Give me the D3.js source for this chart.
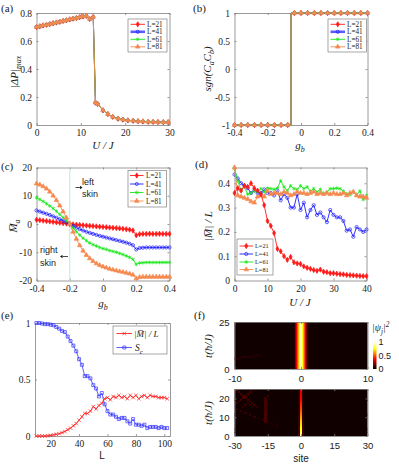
<!DOCTYPE html>
<html><head><meta charset="utf-8">
<script src="https://cdn.jsdelivr.net/npm/d3@7/dist/d3.min.js"></script>
<style>
html,body{margin:0;padding:0;background:#fff;}
svg{display:block;}
</style></head>
<body>
<svg id="chart" width="399" height="468"></svg>
<script>
// ---------------- DATA ----------------
const seriesLabels = ["L=21","L=41","L=61","L=81"];

// (a) |dP|_max vs U/J (all four L overlap)
const aU  = [0,0.75,1.5,2.25,3,3.75,4.5,5.25,6,6.75,7.5,8.25,9,9.75,10.5,11.25,12,12.8,13.3,13.8,15.0,16.1,17.2,18.4,19.5,20.6,21.8,22.9,24.0,25.2,26.3,27.4,28.6,29.7];
const aDP = [0.700,0.705,0.711,0.716,0.721,0.727,0.732,0.737,0.743,0.748,0.754,0.759,0.764,0.770,0.775,0.779,0.757,0.772,0.16,0.15,0.105,0.078,0.058,0.045,0.038,0.033,0.030,0.027,0.025,0.023,0.022,0.021,0.020,0.020];
const aXTicks = [0,10,20,30], aYTicks = [0,0.2,0.4,0.6,0.8];

// (b) sgn(CaCb) vs g_b
const bG   = [-0.4,-0.36,-0.32,-0.28,-0.24,-0.2,-0.16,-0.12,-0.08,-0.04,0,0.04,0.08,0.12,0.16,0.2,0.24,0.28,0.32,0.36,0.4];
const bSgn = [-1,-1,-1,-1,-1,-1,-1,-1,-1,1,1,1,1,1,1,1,1,1,1,1,1];
const bXTicks = [-0.4,-0.2,0,0.2,0.4], bYTicks = [-1,-0.5,0,0.5,1];

// (c) M_a vs g_b
const cG = [-0.4,-0.38,-0.36,-0.34,-0.32,-0.3,-0.28,-0.26,-0.24,-0.22,-0.2,-0.18,-0.16,-0.14,-0.12,-0.1,-0.08,-0.06,-0.04,-0.02,0,0.02,0.04,0.06,0.08,0.1,0.12,0.14,0.16,0.18,0.2,0.22,0.24,0.26,0.28,0.3,0.32,0.34,0.36,0.38,0.4];
const cM21 = [1.5,1.35,1.2,1.05,0.9,0.75,0.6,0.45,0.3,0.15,0,-0.15,-0.25,-0.35,-0.45,-0.55,-0.65,-0.75,-0.85,-0.95,-1.05,-1.15,-1.25,-1.35,-1.45,-1.55,-1.7,-1.85,-2.0,-2.3,-4.0,-3.6,-3.5,-3.5,-3.45,-3.5,-3.5,-3.45,-3.5,-3.5,-3.5];
const cM41 = [4.8,4.4,4.0,3.6,3.2,2.7,2.2,1.7,1.15,0.6,0,-0.7,-1.3,-1.8,-2.3,-2.75,-3.15,-3.5,-3.85,-4.2,-4.5,-4.8,-5.1,-5.4,-5.7,-6.0,-6.3,-6.6,-7.0,-7.5,-9.0,-8.5,-8.4,-8.3,-8.3,-8.3,-8.3,-8.3,-8.3,-8.3,-8.3];
const cM61 = [9.3,8.7,8.0,7.2,6.4,5.5,4.5,3.4,2.3,1.2,0,-1.4,-2.7,-3.9,-5.0,-5.9,-6.7,-7.3,-7.8,-8.3,-8.7,-9.0,-9.4,-9.7,-10.0,-10.4,-10.8,-11.3,-11.8,-12.5,-14.3,-13.8,-13.7,-13.6,-13.6,-13.6,-13.6,-13.6,-13.6,-13.6,-13.6];
const cM81 = [14.3,13.9,13.3,12.5,11.4,10.0,8.4,6.5,4.4,2.2,0,-2.8,-5.3,-7.6,-9.5,-11.0,-12.2,-13.2,-14.0,-14.6,-15.1,-15.5,-15.9,-16.2,-16.5,-16.8,-17.0,-17.3,-17.6,-18.0,-19.3,-18.8,-18.7,-18.7,-18.7,-18.7,-18.7,-18.7,-18.7,-18.7,-18.7];
const cXTicks = [-0.4,-0.2,0,0.2,0.4], cYTicks = [-20,-10,0,10,20];

// (d) |M|/L vs U/J
const dU = [0,1,2,3,4,5,6,7,8,9,10,11,12,13,14,15,16,17,18,19,20,21,22,23,24,25,26,27,28,29,30,31,32,33,34,35,36,37,38,39,40];
const dM21 = [0.36,0.38,0.37,0.39,0.385,0.40,0.38,0.37,0.355,0.31,0.245,0.225,0.195,0.13,0.12,0.10,0.085,0.097,0.075,0.07,0.068,0.058,0.052,0.048,0.043,0.04,0.045,0.036,0.034,0.03,0.03,0.028,0.026,0.025,0.023,0.022,0.021,0.02,0.019,0.018,0.018];
const dM41 = [0.436,0.42,0.40,0.39,0.38,0.36,0.37,0.36,0.36,0.375,0.36,0.36,0.35,0.37,0.33,0.355,0.34,0.30,0.30,0.355,0.29,0.32,0.26,0.29,0.31,0.27,0.28,0.26,0.24,0.29,0.27,0.26,0.26,0.245,0.205,0.21,0.18,0.22,0.21,0.20,0.21];
const dM61 = [0.46,0.41,0.37,0.385,0.355,0.36,0.37,0.365,0.378,0.364,0.38,0.378,0.375,0.38,0.41,0.385,0.37,0.39,0.378,0.375,0.39,0.378,0.385,0.367,0.378,0.364,0.375,0.357,0.364,0.378,0.378,0.38,0.378,0.367,0.357,0.353,0.364,0.353,0.368,0.333,0.35];
const dM81 = [0.465,0.35,0.345,0.34,0.335,0.325,0.32,0.345,0.35,0.345,0.37,0.355,0.36,0.36,0.355,0.365,0.36,0.35,0.355,0.365,0.36,0.36,0.355,0.36,0.365,0.355,0.36,0.355,0.36,0.355,0.36,0.355,0.355,0.36,0.35,0.36,0.365,0.35,0.345,0.345,0.34];
const dXTicks = [0,10,20,30,40], dYTicks = [0,0.1,0.2,0.3,0.4];

// (e) |M|/L and S_c vs L
const eL  = [10,12,14,16,18,20,22,24,26,28,30,32,34,36,38,40,42,44,46,48,50,52,54,56,58,60,62,64,66,68,70,72,74,76,78,80,82,84,86,88,90,92,94,96,98,100,102];
const eM  = [0,0,0,0,0.003,0.005,0.01,0.015,0.02,0.03,0.04,0.055,0.07,0.09,0.11,0.14,0.17,0.20,0.20,0.22,0.26,0.24,0.27,0.29,0.33,0.34,0.32,0.35,0.34,0.36,0.34,0.35,0.33,0.36,0.34,0.36,0.33,0.35,0.36,0.34,0.36,0.35,0.35,0.34,0.34,0.34,0.33];
const eSc = [1.0,1.0,0.995,0.99,0.99,0.985,0.98,0.965,0.95,0.93,0.92,0.88,0.84,0.80,0.75,0.68,0.63,0.53,0.53,0.51,0.45,0.42,0.35,0.38,0.28,0.22,0.19,0.19,0.17,0.15,0.16,0.16,0.13,0.11,0.15,0.10,0.10,0.09,0.10,0.07,0.08,0.08,0.08,0.07,0.08,0.07,0.07];
const eXTicks = [20,40,60,80,100], eYTicks = [0,0.5,1];

// (f) |psi_j|^2 heat maps
const fBase = 0.025;
const fTopSites = [-10,-9,-8,-7,-6,-5,-4,-3,-2,-1,0,1,2,3,4,5,6,7,8,9,10];
const fTopProb  = [0.025,0.025,0.025,0.025,0.025,0.025,0.025,0.025,0.025,0.03,1.0,0.03,0.025,0.025,0.025,0.025,0.025,0.025,0.025,0.025,0.025];
const fTopFaint = [[-10,5,0.06],[-9,6,0.06],[-8,6,0.055],[-7,7,0.05]];
const fBotT      = [0,1,2,3,4,5,6,7,8,9,10,11,12,13,14,15,16,17,18,19,20,21,22,23,24];
const fBotCenter = [0.92,0.86,0.82,0.78,0.75,0.72,0.7,0.68,0.65,0.62,0.6,0.57,0.54,0.51,0.48,0.46,0.44,0.42,0.4,0.38,0.36,0.35,0.34,0.33,0.32];
const fBotSide   = [0.12,0.11,0.1,0.1,0.09,0.09,0.08,0.08,0.08,0.07,0.07,0.07,0.07,0.06,0.06,0.06,0.06,0.06,0.06,0.05,0.05,0.05,0.05,0.05,0.05];
const fBotFaint  = [[-16,7,0.09],[-16,8,0.1],[-16,9,0.1],[-16,10,0.11],[-16,11,0.11],[-16,12,0.11],[-16,13,0.1],[-16,14,0.1],[-16,15,0.1],[-16,16,0.1],[-16,17,0.1],[-16,18,0.1],[-16,19,0.09],[-16,20,0.09],[-15,21,0.08],
  [-29,14,0.08],[-27,13,0.08],[-25,12,0.08],[-23,11,0.075],[-21,10,0.075],[-19,9,0.07],[-17,8,0.07],[-15,7,0.065],[-13,6,0.06],[-11,5,0.06],
  [-29,24,0.11],[-28,23,0.11],[-27,22,0.11],[-26,21,0.11],[-25,20,0.1],[-24,19,0.1],[-23,18,0.1],[-22,17,0.09],[-21,16,0.09],[-20,15,0.08],
  [-29,17,0.1],[-28,18,0.11],[-27,19,0.11],[-26,20,0.11],[-25,21,0.11],[-24,22,0.11],[-23,23,0.11],[-22,24,0.11],
  [-26,15,0.08],[-25,16,0.08],[-24,17,0.08],[-23,16,0.075],[-22,15,0.075]];
const fTopXTicks = [-10,0,10], fTopYTicks = [0,25];
const fBotXTicks = [-30,-15,0,15,30], fBotYTicks = [0,10,20];
const cbTicks = [0,0.5,1];

// ---------------- STYLE ----------------
const AX = "#808080";
const SERIF = "'Liberation Serif','Times New Roman',Times,serif";
const SANS  = "'Liberation Sans',Arial,Helvetica,sans-serif";
const RED = "#ff1a1a", BLUE = "#1a1aff", GREEN = "#19e619", ORANGE = "#f5894f";
const styles = [
  {color:RED,    sym:d3.symbolDiamond,  size:8,  fill:RED},
  {color:BLUE,   sym:d3.symbolCircle,   size:8,  fill:"none"},
  {color:GREEN,  sym:d3.symbolAsterisk, size:10, fill:"none"},
  {color:ORANGE, sym:d3.symbolTriangle, size:9,  fill:ORANGE}
];
const fmt = d => String(d);

const svg = d3.select("#chart");
const defs = svg.append("defs");

function hot(v){
  v = Math.max(0, Math.min(1, v));
  const r = Math.min(1, v/0.375), g = Math.max(0, Math.min(1, (v-0.375)/0.375)), b = Math.max(0, Math.min(1, (v-0.75)/0.25));
  return d3.rgb(r*255, g*255, b*255).formatHex();
}

function drawAxes(x, y, xt, yt, o = {}) {
  const g = svg.append("g");
  const font = o.font || SERIF, fs = o.fs || 9.5;
  const B = y.range()[0], T = y.range()[1], L = x.range()[0], R = x.range()[1];
  const list = [
    g.append("g").attr("transform", `translate(0,${B})`).call(d3.axisBottom(x).tickValues(xt).tickFormat(fmt).tickSizeInner(-2).tickSizeOuter(0).tickPadding(o.xpad || 4.5)),
    g.append("g").attr("transform", `translate(0,${T})`).call(d3.axisTop(x).tickValues(xt).tickFormat("").tickSizeInner(-2).tickSizeOuter(0)),
    g.append("g").attr("transform", `translate(${L},0)`).call(d3.axisLeft(y).tickValues(yt).tickFormat(fmt).tickSizeInner(-2).tickSizeOuter(0).tickPadding(o.ypad || 4.5)),
    g.append("g").attr("transform", `translate(${R},0)`).call(d3.axisRight(y).tickValues(yt).tickFormat("").tickSizeInner(-2).tickSizeOuter(0))
  ];
  list.forEach(a => {
    a.attr("font-family", font).attr("font-size", fs);
    a.select(".domain").attr("stroke", AX).attr("stroke-width", 0.8);
    a.selectAll(".tick line").attr("stroke", AX).attr("stroke-width", 0.8);
    a.selectAll(".tick text").attr("fill", "#1a1a1a").attr("font-family", font).attr("font-size", fs);
  });
  return g;
}

function drawSeries(g, x, y, xs, ys, st, o = {}) {
  const pts = xs.map((v, i) => [x(v), y(ys[i])]);
  const line = d3.line();
  if (o.curve) line.curve(o.curve);
  g.append("path").attr("d", line(pts)).attr("fill", "none")
    .attr("stroke", o.lineColor || st.color).attr("stroke-width", o.lw || 0.9);
  const sym = d3.symbol().type(st.sym).size(st.size);
  g.selectAll(null).data(pts).join("path")
    .attr("transform", d => `translate(${d[0]},${d[1]})`)
    .attr("d", sym).attr("fill", st.fill).attr("stroke", st.color).attr("stroke-width", 0.7);
}

function legend4(box, rowsY, lx0, lx1, tx, fs, o = {}) {
  const g = svg.append("g");
  g.append("rect").attr("x", box[0]).attr("y", box[1]).attr("width", box[2]).attr("height", box[3])
    .attr("fill", "#fff").attr("stroke", AX).attr("stroke-width", 0.7);
  seriesLabels.forEach((lab, i) => {
    const st = styles[i], yy = rowsY[i];
    const thick = (o.thickBlue && i === 1);
    g.append("line").attr("x1", lx0).attr("x2", lx1).attr("y1", yy).attr("y2", yy)
      .attr("stroke", thick ? "#5c5cff" : st.color).attr("stroke-width", thick ? 2.6 : 0.9);
    g.append("path").attr("transform", `translate(${(lx0+lx1)/2},${yy})`)
      .attr("d", d3.symbol().type(st.sym).size(st.size)).attr("fill", st.fill).attr("stroke", st.color).attr("stroke-width", 0.7);
    g.append("text").attr("x", tx).attr("y", yy).attr("dy", "0.35em").attr("font-family", SERIF)
      .attr("font-size", fs).attr("fill", "#1a1a1a").text(lab);
  });
}

function rich(parent, x, y, parts, o = {}) {
  const t = parent.append("text").attr("x", x).attr("y", y)
    .attr("font-family", o.font || SERIF).attr("font-size", o.fs || 11)
    .attr("font-style", o.italic === false ? "normal" : "italic")
    .attr("text-anchor", o.anchor || "middle").attr("fill", "#1a1a1a");
  if (o.rotate) t.attr("transform", `rotate(-90,${x},${y})`);
  let shift = 0;
  parts.forEach(([s, k]) => {
    const target = k === "sub" ? 3 : k === "sup" ? -4 : 0;
    const sp = t.append("tspan").text(s).attr("dy", target - shift);
    if (k !== "n") sp.attr("font-size", (o.fs || 11) * 0.72);
    shift = target;
  });
  return t;
}

function panelLabel(x, y, s) {
  svg.append("text").attr("x", x).attr("y", y).attr("font-family", SERIF).attr("font-size", 11).attr("fill", "#1a1a1a").text(s);
}

// ---------------- PANEL (a) ----------------
{
  const x = d3.scaleLinear().domain([0, 30]).range([36.5, 169.5]);
  const y = d3.scaleLinear().domain([0, 0.8]).range([125, 13]);
  drawAxes(x, y, aXTicks, aYTicks);
  const g = svg.append("g");
  styles.forEach(st => drawSeries(g, x, y, aU, aDP, st));
  legend4([128, 19, 39, 33], [24.3, 31.8, 39.3, 46.8], 130.5, 145, 147, 7.2, {thickBlue: true});
  rich(svg, 103, 149, [["U / J", "n"]]);
  rich(svg, 18, 72, [["|ΔP|", "n"], ["max", "sub"]], {rotate: true});
  panelLabel(1, 12, "(a)");
}

// ---------------- PANEL (b) ----------------
{
  const x = d3.scaleLinear().domain([-0.4, 0.4]).range([234.5, 367.5]);
  const y = d3.scaleLinear().domain([-1, 1]).range([125, 13]);
  drawAxes(x, y, bXTicks, bYTicks);
  const g = svg.append("g");
  styles.forEach(st => drawSeries(g, x, y, bG, bSgn, st, {curve: d3.curveStep}));
  legend4([328, 19, 38.5, 33], [24.3, 31.8, 39.3, 46.8], 330.5, 345, 347, 7.2, {thickBlue: true});
  rich(svg, 300, 149, [["g", "n"], ["b", "sub"]]);
  rich(svg, 211, 69, [["sgn(C", "n"], ["a", "sub"], ["C", "n"], ["b", "sub"], [")", "n"]], {rotate: true});
  panelLabel(193, 12, "(b)");
}

// ---------------- PANEL (c) ----------------
{
  const x = d3.scaleLinear().domain([-0.4, 0.4]).range([36.5, 169.5]);
  const y = d3.scaleLinear().domain([-20, 20]).range([280.5, 167.5]);
  drawAxes(x, y, cXTicks, cYTicks);
  svg.append("line").attr("x1", x(-0.2)).attr("x2", x(-0.2)).attr("y1", y(20)).attr("y2", y(-20))
    .attr("stroke", "#b8e4ee").attr("stroke-width", 0.9);
  const g = svg.append("g");
  [cM21, cM41, cM61, cM81].forEach((arr, i) => drawSeries(g, x, y, cG, arr, styles[i]));
  legend4([128, 170.5, 38.5, 36.5], [175.5, 184, 192.5, 201], 130, 143.5, 146, 7.2);
  const ann = svg.append("g").attr("font-family", SANS).attr("font-size", 9).attr("fill", "#1a1a1a");
  ann.append("text").attr("x", 82).attr("y", 185).text("left");
  ann.append("text").attr("x", 82).attr("y", 197).text("skin");
  ann.append("text").attr("x", 40).attr("y", 253).text("right");
  ann.append("text").attr("x", 40).attr("y", 266).text("skin");
  svg.append("path").attr("d", "M75.5,187.5H80").attr("stroke", "#1a1a1a").attr("stroke-width", 0.8);
  svg.append("path").attr("d", "M80,185.8L82.5,187.5L80,189.2Z").attr("fill", "#1a1a1a");
  svg.append("path").attr("d", "M68,256.5H62.5").attr("stroke", "#1a1a1a").attr("stroke-width", 0.8);
  svg.append("path").attr("d", "M62.5,254.8L60,256.5L62.5,258.2Z").attr("fill", "#1a1a1a");
  rich(svg, 103, 307, [["g", "n"], ["b", "sub"]]);
  rich(svg, 17, 226, [["M\u0305", "n"], ["a", "sub"]], {rotate: true});
  panelLabel(1, 170, "(c)");
}

// ---------------- PANEL (d) ----------------
{
  const x = d3.scaleLinear().domain([0, 40]).range([234.5, 366.5]);
  const y = d3.scaleLinear().domain([0, 0.465]).range([280.5, 167.5]);
  drawAxes(x, y, dXTicks, dYTicks);
  const g = svg.append("g");
  [dM41, dM61, dM81, dM21].forEach((arr, k) => {
    const i = [1, 2, 3, 0][k];
    drawSeries(g, x, y, dU, arr, styles[i]);
  });
  legend4([237, 239, 36, 36], [246, 254, 262, 269.5], 239.5, 253, 255, 6.3);
  rich(svg, 300, 306, [["U / J", "n"]]);
  rich(svg, 212, 226, [["|M\u0305| / L", "n"]], {rotate: true});
  panelLabel(195, 168, "(d)");
}

// ---------------- PANEL (e) ----------------
{
  const x = d3.scaleLinear().domain([9, 104]).range([35, 170]);
  const y = d3.scaleLinear().domain([0, 1]).range([436, 323]);
  drawAxes(x, y, eXTicks, eYTicks);
  const g = svg.append("g");
  const stM = {color: "#ff2020", sym: d3.symbolTimes, size: 10, fill: "none"};
  const stS = {color: "#3333ff", sym: d3.symbolSquare, size: 9, fill: "none"};
  drawSeries(g, x, y, eL, eSc, stS, {lineColor: "#4d4dff"});
  drawSeries(g, x, y, eL, eM, stM);
  const lg = svg.append("g");
  lg.append("rect").attr("x", 113).attr("y", 326).attr("width", 54).attr("height", 28).attr("fill", "#fff").attr("stroke", AX).attr("stroke-width", 0.7);
  [[333.5, stM, "#ff2020"], [347.5, stS, "#4d4dff"]].forEach(([yy, st, lc]) => {
    lg.append("line").attr("x1", 116.5).attr("x2", 132).attr("y1", yy).attr("y2", yy).attr("stroke", lc).attr("stroke-width", 0.9);
    lg.append("path").attr("transform", `translate(124.3,${yy})`).attr("d", d3.symbol().type(st.sym).size(st.size)).attr("fill", "none").attr("stroke", st.color).attr("stroke-width", 0.7);
  });
  rich(lg, 134, 337, [["|M\u0305| / L", "n"]], {anchor: "start", fs: 9});
  rich(lg, 135, 350.5, [["S", "n"], ["c", "sub"]], {anchor: "start", fs: 9.5});
  svg.append("text").attr("x", 102).attr("y", 459).attr("text-anchor", "middle").attr("font-family", SANS).attr("font-size", 10).attr("fill", "#1a1a1a").text("L");
  panelLabel(1, 319, "(e)");
}

// ---------------- PANEL (f) ----------------
{
  const x = d3.scaleLinear().domain([-10, 10]).range([234.5, 367.5]);
  const y = d3.scaleLinear().domain([0, 25]).range([369, 322]);
  const grad = defs.append("linearGradient").attr("id", "gTop").attr("gradientUnits", "userSpaceOnUse")
    .attr("x1", x(-10)).attr("x2", x(10)).attr("y1", 0).attr("y2", 0);
  const span = x(10) - x(-10);
  fTopSites.forEach((s, i) => {
    if (i === fTopSites.length - 1) {
      grad.append("stop").attr("offset", 1).attr("stop-color", hot(fTopProb[i]));
      return;
    }
    for (let k = 0; k < 12; k++) {
      const f = k / 12;
      const v = fTopProb[i] + (fTopProb[i + 1] - fTopProb[i]) * f;
      const px = x(s + f * (fTopSites[i + 1] - s));
      grad.append("stop").attr("offset", (px - x(-10)) / span).attr("stop-color", hot(v));
    }
  });
  svg.append("rect").attr("x", x(-10)).attr("y", y(25)).attr("width", span).attr("height", y(0) - y(25)).attr("fill", "url(#gTop)");
  const gt = svg.append("g");
  fTopFaint.forEach(([s, t, v]) => gt.append("rect").attr("x", x(s)).attr("y", y(t + 1)).attr("width", x(s + 1) - x(s)).attr("height", y(t) - y(t + 1)).attr("fill", hot(v)));
  drawAxes(x, y, fTopXTicks, fTopYTicks, {font: SANS, fs: 9.5, xpad: 6, ypad: 5});

  const cy = d3.scaleLinear().domain([0, 1]).range([369, 342]);
  const cg = defs.append("linearGradient").attr("id", "gCb").attr("x1", 0).attr("x2", 0).attr("y1", 1).attr("y2", 0);
  [0, 0.1, 0.2, 0.3, 0.375, 0.45, 0.55, 0.65, 0.75, 0.85, 0.95, 1].forEach(v => cg.append("stop").attr("offset", v).attr("stop-color", hot(v)));
  svg.append("rect").attr("x", 373).attr("y", cy(1)).attr("width", 3.5).attr("height", cy(0) - cy(1)).attr("fill", "url(#gCb)");
  const cax = svg.append("g").attr("transform", "translate(376.5,0)").call(d3.axisRight(cy).tickValues(cbTicks).tickFormat(fmt).tickSize(0).tickPadding(2));
  cax.attr("font-family", SANS).attr("font-size", 9);
  cax.select(".domain").remove();
  cax.selectAll(".tick text").attr("fill", "#1a1a1a").attr("font-family", SANS).attr("font-size", 9);
  rich(svg, 372, 331, [["|ψ", "n"], ["j", "sub"], ["|", "n"], ["2", "sup"]], {anchor: "start", fs: 10});

  const xb = d3.scaleLinear().domain([-30, 30]).range([234.5, 367.5]);
  const yb = d3.scaleLinear().domain([0, 25]).range([436, 389]);
  defs.append("clipPath").attr("id", "clipB").append("rect").attr("x", xb(-30)).attr("y", yb(25)).attr("width", xb(30) - xb(-30)).attr("height", yb(0) - yb(25));
  const sites = d3.range(-30, 31);
  const cells = [];
  fBotT.forEach((t, ti) => sites.forEach(s => {
    let v = fBase;
    if (s === 0) v = fBotCenter[ti];
    else if (Math.abs(s) === 1) v = fBotSide[ti];
    cells.push({s, t, v});
  }));
  fBotFaint.forEach(([s, t, v]) => {
    const c = cells.find(d => d.s === s && d.t === t);
    if (c) c.v = Math.max(c.v, v);
  });
  svg.append("g").attr("clip-path", "url(#clipB)").attr("shape-rendering", "crispEdges")
    .selectAll("rect").data(cells).join("rect")
    .attr("x", d => xb(d.s - 0.5)).attr("y", d => yb(d.t + 1))
    .attr("width", d => xb(d.s + 0.5) - xb(d.s - 0.5) + 0.3).attr("height", d => yb(d.t) - yb(d.t + 1) + 0.3)
    .attr("fill", d => hot(d.v));
  drawAxes(xb, yb, fBotXTicks, fBotYTicks, {font: SANS, fs: 9.5, xpad: 6, ypad: 5});

  rich(svg, 212, 346, [["t(ħ/J)", "n"]], {rotate: true});
  rich(svg, 212, 413, [["t(ħ/J)", "n"]], {rotate: true});
  svg.append("text").attr("x", 301).attr("y", 462).attr("text-anchor", "middle").attr("font-family", SANS).attr("font-size", 10).attr("fill", "#1a1a1a").text("site");
  panelLabel(194, 319, "(f)");
}
</script>
</body></html>
